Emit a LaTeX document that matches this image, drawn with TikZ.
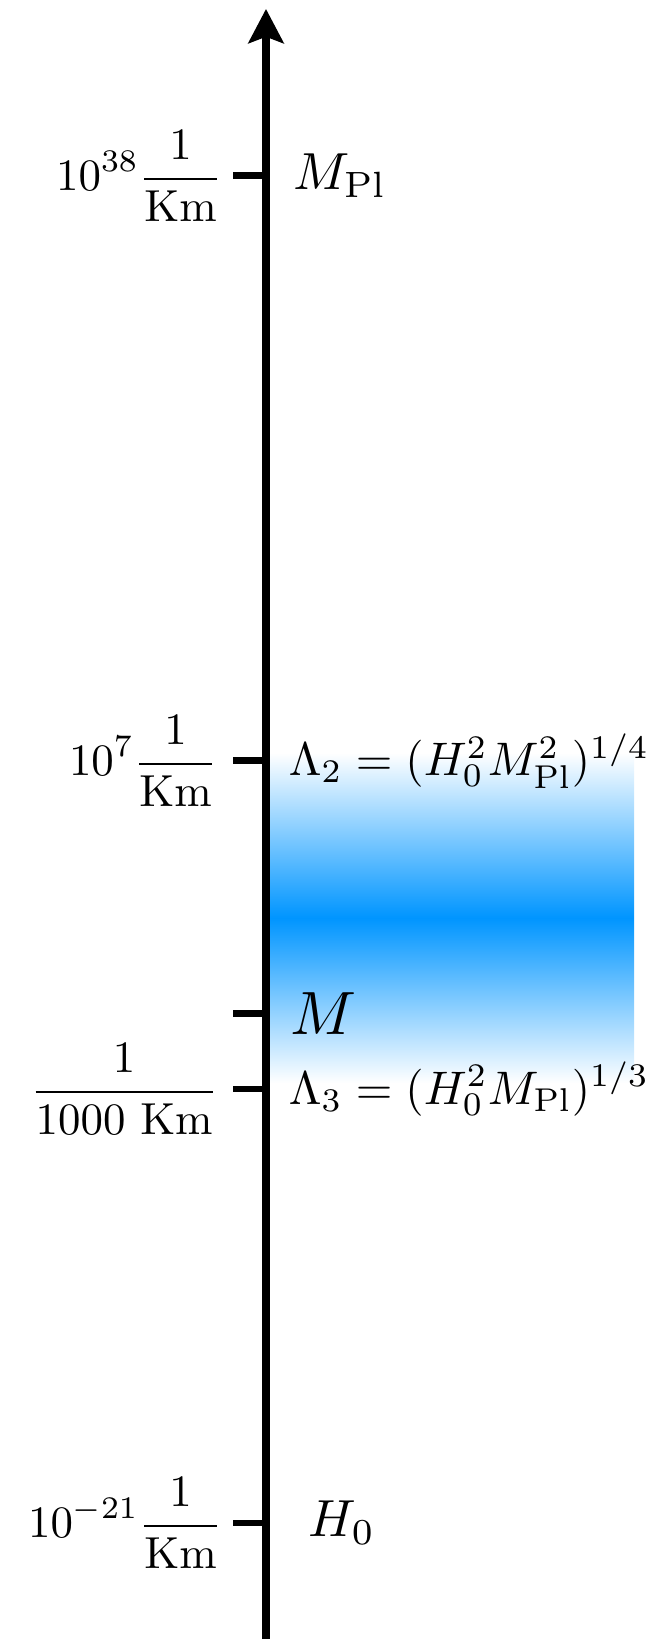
\RequirePackage{fix-cm}
\documentclass[tikz,border=0pt]{standalone}
\usepackage{xcolor}
\usepackage{tikz}
\usetikzlibrary{arrows.meta}
\definecolor{ScaleInk}{HTML}{000000}
\definecolor{BandBlue}{HTML}{0095FF}
\tikzset{
  scale axis/.style={
    -{Stealth[length=7pt, width=7.2pt, inset=1.3pt]},
    line width=1.64pt, ScaleInk
  },
  scale tick/.style={line width=1.43pt, ScaleInk},
  unit label/.style={anchor=east, inner sep=0pt, scale=0.92},
  cutoff label/.style={anchor=west, inner sep=0pt, scale=0.965},
  mass label/.style={inner sep=0pt, scale=1.07}
}

\begin{document}
\begin{tikzpicture}[x=0.205pt, y=0.205pt]
  \useasboundingbox (0,0) rectangle (651,1639);

  \shade[top color=white, bottom color=white, middle color=BandBlue]
    (266,556) rectangle (634,886);

  \coordinate (axbot) at (266,0);
  \coordinate (axtop) at (266,1630);
  \draw[scale axis] (axbot) -- (axtop);

  \coordinate (tPl) at (266,1463);
  \coordinate (tPlEnd) at (233,1463);
  \coordinate (tLamTwo) at (266,878);
  \coordinate (tLamTwoEnd) at (233,878);
  \coordinate (tM) at (266,625);
  \coordinate (tMEnd) at (233,625);
  \coordinate (tLamThree) at (266,550);
  \coordinate (tLamThreeEnd) at (233,550);
  \coordinate (tH) at (266,116);
  \coordinate (tHEnd) at (233,116);

  \draw[scale tick] (tPlEnd) -- (tPl);
  \draw[scale tick] (tLamTwoEnd) -- (tLamTwo);
  \draw[scale tick] (tMEnd) -- (tM);
  \draw[scale tick] (tLamThreeEnd) -- (tLamThree);
  \draw[scale tick] (tHEnd) -- (tH);

  \node[unit label] (unitPl) at (223,1463)
    {$\displaystyle 10^{38}\frac{1}{\mathrm{Km}}$};
  \node[unit label] (unitLamTwo) at (218,878)
    {$\displaystyle 10^{7}\frac{1}{\mathrm{Km}}$};
  \node[unit label] (unitLamThree) at (219,550)
    {$\displaystyle \frac{1}{1000\ \mathrm{Km}}$};
  \node[unit label] (unitH) at (223,116)
    {$\displaystyle 10^{-21}\frac{1}{\mathrm{Km}}$};

  \node[mass label] (massPl) at (340,1463) {$M_{\mathrm{Pl}}$};
  \node[cutoff label] (lamTwo) at (288,878)
    {$\Lambda_2 = (H_0^2 M_{\mathrm{Pl}}^2)^{1/4}$};
  \node[cutoff label, scale=1.3] (massM) at (289,625) {$M$};
  \node[cutoff label] (lamThree) at (288,550)
    {$\Lambda_3 = (H_0^2 M_{\mathrm{Pl}})^{1/3}$};
  \node[mass label] (massH) at (342,116) {$H_0$};
\end{tikzpicture}
\end{document}
